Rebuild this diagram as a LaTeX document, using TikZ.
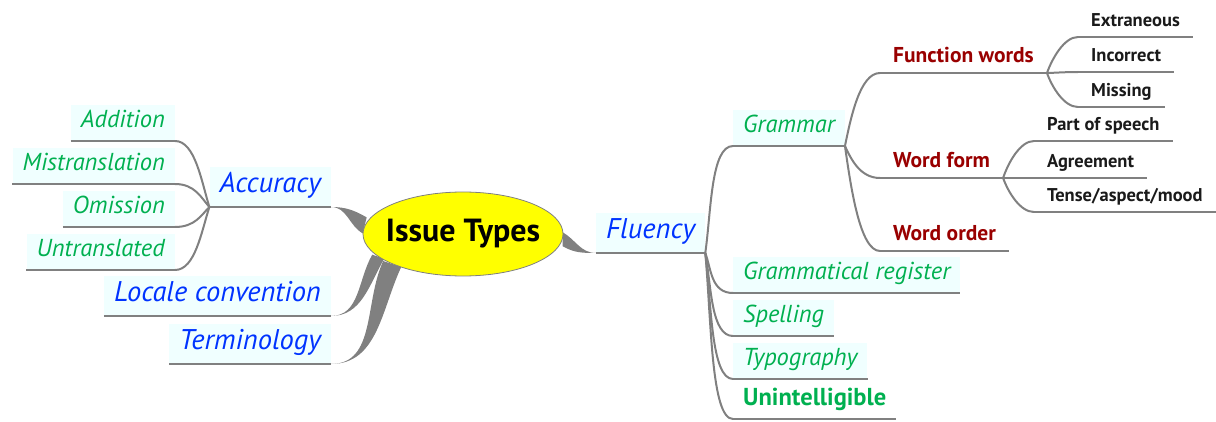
\documentclass[tikz,border=0pt]{standalone}
\usepackage{fontspec}
\setmainfont{PT Sans}
\usetikzlibrary{shapes.geometric,calc,backgrounds}
\definecolor{Bough}{HTML}{808080}
\definecolor{Sky}{HTML}{F0FFFF}
\definecolor{Azure}{HTML}{0033FF}
\definecolor{Leaf}{HTML}{00B050}
\definecolor{Brick}{HTML}{990000}
\definecolor{Sun}{HTML}{FFFF00}
\definecolor{Coal}{HTML}{1A1A1A}
% tapered branch from the hub: #1 hub point, #2 node point, #3/#4 angles, #5 half width
\newcommand{\limb}[5]{%
  \fill[Bough] (#2) to[out=#3,in=#4] ($(#1)+(#5)$) -- ($(#1)-(#5)$) to[out=#4,in=#3] (#2);
}

\begin{document}
\begin{tikzpicture}[x=1pt,y=1pt,
    hub/.style={ellipse,fill=Sun,draw=Bough,line width=0.8pt,minimum width=200pt,
      minimum height=84pt,inner xsep=-12pt,inner ysep=0pt,
      font=\fontsize{32}{34}\selectfont\bfseries},
    major/.style={fill=Sky,text=Azure,font=\fontsize{28.5}{30}\selectfont\itshape,
      minimum height=40pt,inner ysep=0pt,inner xsep=10pt,text height=19.95pt,text depth=8.55pt},
    minor/.style={fill=Sky,text=Leaf,font=\fontsize{24.5}{26}\selectfont\itshape,
      minimum height=36pt,inner ysep=0pt,inner xsep=10pt,text height=17.15pt,text depth=7.35pt},
    bare/.style={minor,fill=none,font=\fontsize{24.5}{26}\selectfont\bfseries},
    sub/.style={text=Brick,font=\fontsize{21.5}{23}\selectfont\bfseries,minimum height=30pt,
      inner ysep=0pt,inner xsep=13pt,text height=15.05pt,text depth=6.45pt},
    tip/.style={text=Coal,font=\fontsize{18.5}{20}\selectfont\bfseries,minimum height=27.5pt,
      inner ysep=0pt,inner xsep=13pt,text height=12.95pt,text depth=5.55pt},
    twig/.style={draw=Bough,line width=2pt},
    rule/.style={draw=Bough,line width=2.6pt}]
  \useasboundingbox (0,0) rectangle (1216,421);

  \node[hub] (root) at (463,187) {Issue Types};

  % left side
  \node[major,anchor=south east] (acc) at (331,214) {Accuracy};
  \node[minor,anchor=south east] (add) at (175,280) {Addition};
  \node[minor,anchor=south east] (mistr) at (175,237) {Mistranslation};
  \node[minor,anchor=south east] (omi) at (175,194) {Omission};
  \node[minor,anchor=south east] (untr) at (175,151) {Untranslated};
  \node[major,anchor=south east] (loc) at (331,105) {Locale convention};
  \node[major,anchor=south east] (term) at (331,57) {Terminology};

  % right side
  \node[major,anchor=south west] (flu) at (596,168) {Fluency};
  \node[minor,anchor=south west] (gram) at (733,275) {Grammar};
  \node[minor,anchor=south west] (reg) at (733,128) {Grammatical register};
  \node[minor,anchor=south west] (spel) at (733,85) {Spelling};
  \node[minor,anchor=south west] (typo) at (733,42) {Typography};
  \node[bare,anchor=south west] (unint) at (733,2) {Unintelligible};

  \node[sub,anchor=south west] (fw) at (880,348) {Function words};
  \node[sub,anchor=south west] (wf) at (880,243) {Word form};
  \node[sub,anchor=south west] (wo) at (880,170) {Word order};

  \node[tip,anchor=south west] (ext) at (1078,384) {Extraneous};
  \node[tip,anchor=south west] (inc) at (1078,349) {Incorrect};
  \node[tip,anchor=south west] (miss) at (1078,314) {Missing};
  \node[tip,anchor=south west] (pos) at (1034,280) {Part of speech};
  \node[tip,anchor=south west] (agr) at (1034,243) {Agreement};
  \node[tip,anchor=south west] (tam) at (1034,209) {Tense/aspect/mood};

  \begin{scope}[on background layer]
    \limb{root.175}{acc.south east}{0}{150}{2,8}
    \limb{root.195}{loc.south east}{0}{240}{6,-2}
    \limb{root.203}{term.south east}{0}{245}{9,-3}
    \limb{root.-3}{flu.south west}{180}{-30}{0,7}
  \end{scope}

  \foreach \n/\h in {add/26,mistr/9,omi/-8,untr/-25}
    \draw[twig] (acc.south west) .. controls +(-8,\h) and +(20,0) .. (\n.south east);
  \foreach \n/\h in {gram/43,reg/-16,spel/-33,typo/-50,unint/-66}
    \draw[twig] (flu.south east) .. controls +(6,\h) and +(-22,0) .. (\n.south west);
  \foreach \n/\h in {fw/29,wf/-13,wo/-42}
    \draw[twig] (gram.south east) .. controls +(6,\h) and +(-20,0) .. (\n.south west);
  \foreach \n/\h in {ext/14,inc/0,miss/-14}
    \draw[twig] (fw.south east) .. controls +(5,\h) and +(-14,0) .. (\n.south west);
  \foreach \n/\h in {pos/15,agr/0,tam/-14}
    \draw[twig] (wf.south east) .. controls +(5,\h) and +(-14,0) .. (\n.south west);

  \foreach \n in {acc,add,mistr,omi,untr,loc,term,flu,gram,reg,spel,typo,unint,
                  fw,wf,wo,ext,inc,miss,pos,agr,tam}
    \draw[rule] (\n.south west) -- (\n.south east);
\end{tikzpicture}
\end{document}
